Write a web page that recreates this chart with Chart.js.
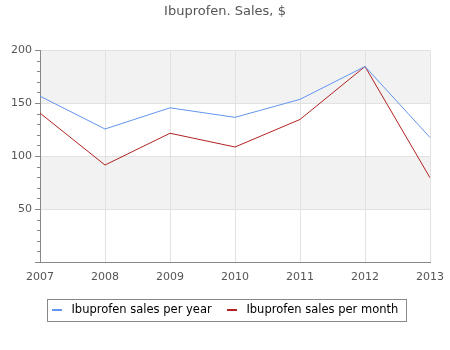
<!doctype html>
<html lang="en">
  <head>
    <title>Ibuprofen sales</title>
    <style>
      html, body { margin: 0; padding: 0; background: #fff; }
      #wrap { width: 450px; height: 350px; }
    </style>
  </head>
  <body>
  <div id="wrap"><canvas id="sales"></canvas></div>
  <script src="https://cdn.jsdelivr.net/npm/chart.js"></script>
  <script>

const years = ['2007', '2008', '2009', '2010', '2011', '2012', '2013'];
const perYear = [157, 126, 146, 137, 154, 185, 118];
const perMonth = [141, 92, 122, 109, 135, 185, 80];
const yTicks = [50, 100, 150, 200];

const font = 'DejaVu Sans';
const textColor = '#555';
const axisColor = '#888';

// grey bands behind the plot, every other 50
const bands = {
    id: 'bands',
    beforeDraw(chart) {
        const {ctx, chartArea: a, scales: {y}} = chart;
        ctx.save();
        ctx.fillStyle = '#f2f2f2';
        for (let v = 50; v < 200; v += 100) {
            const top = y.getPixelForValue(v + 50);
            const bot = y.getPixelForValue(v);
            ctx.fillRect(a.left, top, a.right - a.left, bot - top);
        }
        ctx.restore();
    }
};

// center title + legend on the page, box around legend + short line markers
const legendBox = {
    id: 'legendBox',
    afterLayout(chart) {
        // legend plugin re-places its hit boxes in afterUpdate
        [chart.legend, chart.titleBlock].forEach(b => {
            if (!b) return;
            b.left += 10;
            b.right += 10;
        });
    },
    afterDraw(chart) {
        const boxes = chart.legend.legendHitBoxes;
        if (!boxes.length) return;
        const ctx = chart.ctx;
        const left = Math.min(...boxes.map(b => b.left)) - 5;
        const right = Math.max(...boxes.map(b => b.left + b.width)) + 7;
        const mid = boxes[0].top + boxes[0].height / 2;
        ctx.save();
        ctx.strokeStyle = axisColor;
        ctx.lineWidth = 1;
        ctx.strokeRect(Math.round(left) + 0.5, Math.round(mid - 11) + 0.5, Math.round(right - left), 22);
        boxes.forEach((b, i) => {
            ctx.fillStyle = chart.data.datasets[i].borderColor;
            ctx.fillRect(Math.round(b.left), Math.round(mid) - 1, 10, 2);
        });
        ctx.restore();
    }
};

new Chart(document.getElementById('sales'), {
    type: 'line',
    data: {
        labels: years,
        datasets: [{
            label: 'Ibuprofen sales per year',
            data: perYear,
            borderColor: '#6495ed',
            borderWidth: 1,
            pointRadius: 0,
            tension: 0
        }, {
            label: 'Ibuprofen sales per month',
            data: perMonth,
            borderColor: '#b22222',
            borderWidth: 1,
            pointRadius: 0,
            tension: 0
        }]
    },
    options: {
        responsive: true,
        maintainAspectRatio: false,
        animation: false,
        layout: { padding: { left: 0, right: 20, top: 0, bottom: 24 } },
        plugins: {
            title: {
                display: true,
                text: 'Ibuprofen. Sales, $',
                color: textColor,
                font: { family: font, size: 13, weight: 'normal' },
                padding: { top: 4, bottom: 31 }
            },
            legend: {
                position: 'bottom',
                labels: {
                    color: '#222',
                    font: { family: font, size: 11.5 },
                    boxWidth: 14,
                    boxHeight: 2,
                    padding: 15,
                    generateLabels(chart) {
                        return chart.data.datasets.map((d, i) => ({
                            text: d.label,
                            fillStyle: 'transparent',
                            strokeStyle: 'transparent',
                            lineWidth: 0,
                            datasetIndex: i
                        }));
                    }
                }
            },
            tooltip: { enabled: false }
        },
        scales: {
            x: {
                grid: { color: '#e2e2e2', drawTicks: false },
                border: { color: axisColor },
                ticks: { color: textColor, font: { family: font, size: 11 }, padding: 8, maxRotation: 0 },
                afterFit(s) {
                    s.height = 27;
                    s.paddingLeft = 0;
                    s.paddingRight = 0;
                }
            },
            y: {
                min: 0,
                max: 200,
                weight: 1,
                afterBuildTicks(s) { s.ticks = [0, ...yTicks].map(v => ({ value: v })); },
                grid: {
                    color: c => c.tick && c.tick.value === 0 ? 'transparent' : '#e2e2e2',
                    tickColor: axisColor,
                    tickLength: 5
                },
                border: { color: axisColor },
                ticks: {
                    color: textColor,
                    font: { family: font, size: 11 },
                    padding: 3,
                    callback: v => v === 0 ? '' : v
                },
                afterFit(s) { s.width = 40; }
            },
            yMinor: {
                position: 'left',
                min: 0,
                max: 200,
                weight: 0,
                ticks: { stepSize: 10, display: false },
                grid: { drawOnChartArea: false, tickColor: axisColor, tickLength: 3 },
                border: { display: false },
                afterFit(s) { s.width = 0; }
            }
        }
    },
    plugins: [bands, legendBox]
});

</script>
  </body>
</html>
